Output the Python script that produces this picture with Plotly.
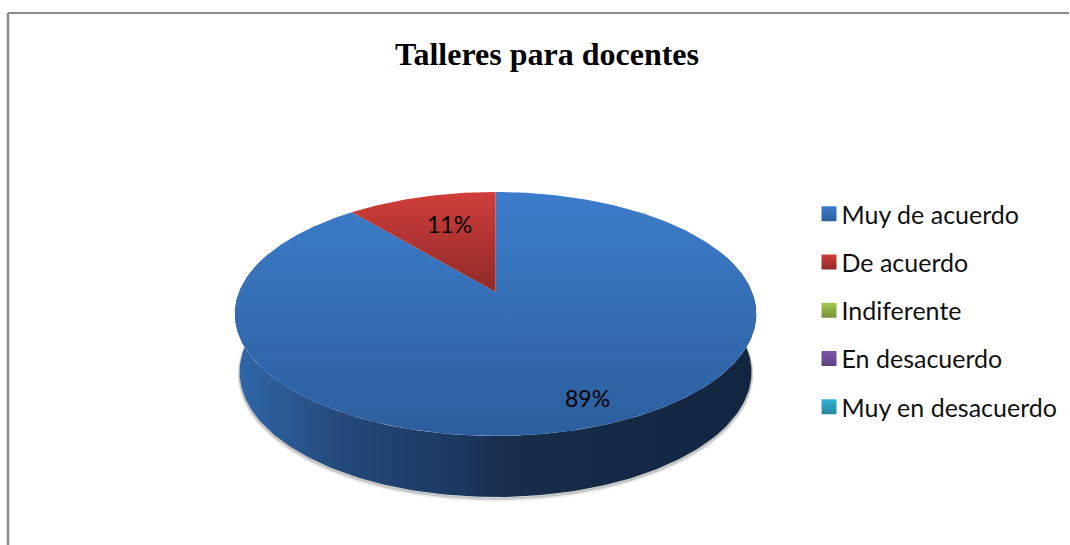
import numpy as np
import plotly.graph_objects as go

categories = ["Muy de acuerdo", "De acuerdo", "Indiferente", "En desacuerdo", "Muy en desacuerdo"]
values = [89, 11, 0, 0, 0]
colors_top = ["#3d7cca", "#d03e3b", "#a3c94a", "#7d56a8", "#33b2d6"]
colors_bottom = ["#2b5e9e", "#8e2a28", "#76923a", "#5f4285", "#27849f"]
title_text = "Talleres para docentes"
label_positions = [(588, 398), (450, 224)]

# perspective projection of the pie disc (pixel axes)
PIE_X = 496
TOP = dict(cy=292, f=256.7, g=118.0)
BOT = dict(cy=349.5, f=252.0, g=121.0)
K = 0.18


def project(theta_deg, disc):
    t = np.radians(theta_deg)
    u, v = np.sin(t), np.cos(t)
    w = 1 + K * v
    return PIE_X + disc["f"] * u / w, disc["cy"] - disc["g"] * v / w


fig = go.Figure()
total = sum(values)

# side wall: lower half of the bottom disc closed against the top disc
ang = np.linspace(70, 290, 221)
bx, by = project(ang, BOT)
tx, ty = project(ang[::-1], TOP)

for off, alpha, lw in [(2.5, 0.10, 4), (1.5, 0.22, 2.5)]:
    fig.add_trace(go.Scatter(x=bx, y=by + off, mode="lines", showlegend=False, hoverinfo="skip",
                             line=dict(color=f"rgba(60,60,60,{alpha})", width=lw)))

fig.add_trace(go.Scatter(
    x=np.r_[bx, tx], y=np.r_[by, ty], mode="lines", fill="toself", showlegend=False, hoverinfo="skip",
    line=dict(width=0),
    fillgradient=dict(type="horizontal", start=235, stop=757, colorscale=[
        [0.0, "#3068aa"], [0.2, "#24497a"], [0.38, "#1d3c66"], [0.55, "#172c49"], [1.0, "#132640"]]),
))

# top surface, one slice per non-zero value, clockwise from 12 o'clock
start = 0.0
for i, val in enumerate(values):
    sweep = 360.0 * val / total
    if val > 0:
        a = np.linspace(start, start + sweep, 400)
        ax, ay = project(a, TOP)
        sx = np.r_[PIE_X, ax, PIE_X]
        sy = np.r_[TOP["cy"], ay, TOP["cy"]]
        fig.add_trace(go.Scatter(
            x=sx, y=sy, mode="lines", fill="toself", showlegend=False, hoverinfo="skip",
            line=dict(width=0),
            fillgradient=dict(type="vertical", start=float(sy.min()), stop=float(sy.max()), colorscale=[
                [0, colors_top[i]], [1, colors_bottom[i]]]),
        ))
    start += sweep

# legend entries
for i, c in enumerate(categories):
    fig.add_trace(go.Scatter(
        x=[None], y=[None], mode="markers", name=c, legendgroup=c,
        marker=dict(symbol="square", size=15, color=colors_top[i],
                    gradient=dict(type="vertical", color=colors_bottom[i]), line=dict(width=0)),
    ))

for (lx, ly), val in zip(label_positions, values[:2]):
    fig.add_annotation(x=lx, y=ly, text=f"{val}%", showarrow=False,
                       font=dict(family="Lato", size=23, color="#000000"))

fig.update_layout(
    width=1070, height=545,
    margin=dict(l=0, r=0, t=0, b=0),
    paper_bgcolor="#ffffff", plot_bgcolor="#ffffff",
    xaxis=dict(range=[0, 1070], visible=False, fixedrange=True),
    yaxis=dict(range=[545, 0], visible=False, fixedrange=True),
    hovermode=False,
    title=dict(text=f"<b>{title_text}</b>", x=547 / 1070, xanchor="center", y=1 - 54 / 545, yanchor="middle",
               font=dict(family="Liberation Serif", size=32, color="#000000")),
    legend=dict(x=809.5 / 1070, xanchor="left", y=1 - 191 / 545, yanchor="top", traceorder="grouped",
                tracegroupgap=12.75, itemwidth=30, bgcolor="rgba(0,0,0,0)",
                font=dict(family="Lato", size=25, color="#111111")),
    shapes=[
        dict(type="line", x0=8, x1=8, y0=13, y1=545, xref="x", yref="y", line=dict(color="#8c8c8c", width=2.5)),
        dict(type="line", x0=8, x1=1070, y0=13, y1=13, xref="x", yref="y", line=dict(color="#8c8c8c", width=2)),
    ],
)

post = """
document.body.style.margin='0';document.body.style.overflow='hidden';
(function(){
  var gd=document.getElementById('{plot_id}');
  function nudge(){
    gd.querySelectorAll('.legendtext').forEach(function(t){
      if(!t.dataset.nudged){t.setAttribute('x',parseFloat(t.getAttribute('x'))-7.5);t.dataset.nudged='1';}
    });
  }
  nudge();
  if(gd.on){gd.on('plotly_afterplot',nudge);}
})();
"""
fig.write_html("out.html", config={"displayModeBar": False}, post_script=post)
